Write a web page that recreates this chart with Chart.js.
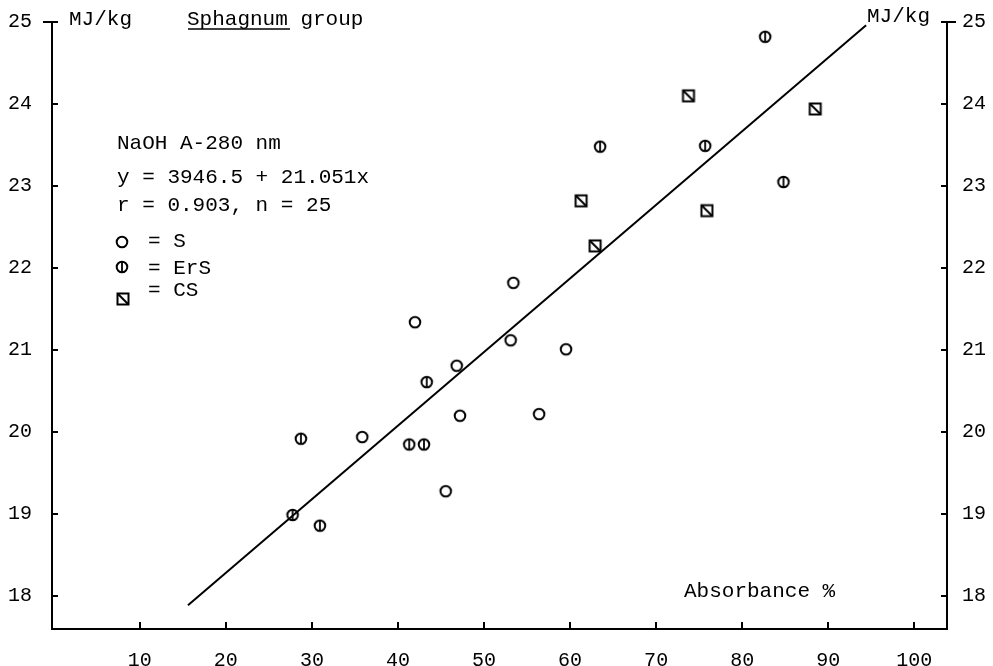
<!DOCTYPE html>
<html>
<head>
<meta charset="utf-8">
<script src="https://cdn.jsdelivr.net/npm/chart.js@4"></script>
<style>
html, body { margin: 0; padding: 0; background: #fff; }
#wrap { width: 993px; height: 666px; position: relative; }
</style>
</head>
<body>
<div id="wrap"><canvas id="chart"></canvas></div>
<script>
'use strict'

// Sphagnum group, absorbance % vs heat value MJ/kg
const sAbs = [41.98, 53.10, 59.53, 46.83, 47.21, 56.40, 35.85, 45.55, 53.41]
const sMJ = [21.34, 21.12, 21.01, 20.81, 20.20, 20.22, 19.94, 19.28, 21.82]

const ersAbs = [43.34, 28.72, 41.31, 43.02, 27.76, 30.93, 63.49, 75.70, 84.80, 82.67]
const ersMJ = [20.61, 19.92, 19.85, 19.85, 18.99, 18.86, 23.48, 23.49, 23.05, 24.82]

const csAbs = [73.76, 88.49, 61.28, 75.90, 62.91]
const csMJ = [24.10, 23.94, 22.82, 22.70, 22.27]

const fitAbs = [15.6, 94.4]
const fitMJ = [17.89, 24.96]

const xTicks = [10, 20, 30, 40, 50, 60, 70, 80, 90, 100]
const yTicks = [18, 19, 20, 21, 22, 23, 24, 25]

const FONT = '"Liberation Mono", "DejaVu Sans Mono", monospace'

const toPoints = (xs, ys) => xs.map((x, i) => ({x: x, y: ys[i]}))

function makeMarker(kind) {
    const c = document.createElement('canvas')
    c.width = 16
    c.height = 16
    const g = c.getContext('2d')
    g.strokeStyle = '#000'
    g.lineWidth = 2
    if (kind === 'cs') {
        g.strokeRect(2.5, 2.5, 11, 11)
        g.beginPath()
        g.moveTo(3, 3)
        g.lineTo(13, 13)
        g.stroke()
    } else {
        g.beginPath()
        g.arc(8, 8, 5.3, 0, Math.PI * 2)
        g.stroke()
        if (kind === 'ers') {
            g.lineWidth = 1.8
            g.beginPath()
            g.moveTo(8, 2.5)
            g.lineTo(8, 13.5)
            g.stroke()
        }
    }
    return c
}

const markS = makeMarker('s')
const markErS = makeMarker('ers')
const markCS = makeMarker('cs')

const textPlugin = {
    id: 'textPlugin',
    afterDraw(chart) {
        const ctx = chart.ctx
        const yl = chart.scales.y
        const yr = chart.scales.y2
        ctx.save()
        ctx.fillStyle = '#000'
        ctx.strokeStyle = '#000'
        ctx.textBaseline = 'middle'
        ctx.textAlign = 'left'
        ctx.font = '21px ' + FONT

        // outward part of the top ticks
        const top = yl.getPixelForValue(25)
        ctx.lineWidth = 2
        ctx.beginPath()
        ctx.moveTo(yl.right - 9, top)
        ctx.lineTo(yl.right, top)
        ctx.moveTo(yr.left, top)
        ctx.lineTo(yr.left + 9, top)
        ctx.stroke()

        ctx.fillText('MJ/kg', 69, 19)
        ctx.fillText('Sphagnum group', 187, 19)
        ctx.lineWidth = 1.5
        ctx.beginPath()
        ctx.moveTo(188, 29)
        ctx.lineTo(290, 29)
        ctx.stroke()
        ctx.fillText('MJ/kg', 867, 16)

        ctx.fillText('NaOH A-280 nm', 117, 143)
        ctx.fillText('y = 3946.5 + 21.051x', 117, 177)
        ctx.fillText('r = 0.903, n = 25', 117, 205)
        ctx.fillText('= S', 148, 241)
        ctx.fillText('= ErS', 148, 268)
        ctx.fillText('= CS', 148, 290)
        ctx.drawImage(markS, 114, 234)
        ctx.drawImage(markErS, 114, 259)
        ctx.drawImage(markCS, 115, 291)

        ctx.fillText('Absorbance %', 684, 591)
        ctx.restore()
    }
}

const yScale = (pos) => ({
    type: 'linear',
    position: pos,
    min: 17.6,
    max: 25,
    afterBuildTicks: (s) => { s.ticks = yTicks.map(v => ({value: v})) },
    afterFit: (s) => {
        s.width = pos === 'left' ? 52 : 46
        s.paddingTop = 0
        s.paddingBottom = 0
    },
    border: {display: true, color: '#000', width: 2},
    grid: {drawOnChartArea: false, color: '#000', lineWidth: 2, tickLength: -6},
    ticks: {
        color: '#000',
        font: {family: FONT, size: 20},
        padding: pos === 'left' ? 26 : 21,
        callback: (v) => String(v)
    }
})

new Chart(document.getElementById('chart'), {
    type: 'scatter',
    data: {
        datasets: [
            {
                type: 'line',
                label: 'fit',
                data: toPoints(fitAbs, fitMJ),
                borderColor: '#000',
                borderWidth: 2,
                pointRadius: 0,
                fill: false
            },
            {label: 'S', data: toPoints(sAbs, sMJ), pointStyle: markS},
            {label: 'ErS', data: toPoints(ersAbs, ersMJ), pointStyle: markErS},
            {label: 'CS', data: toPoints(csAbs, csMJ), pointStyle: markCS}
        ]
    },
    options: {
        responsive: true,
        maintainAspectRatio: false,
        animation: false,
        layout: {padding: {top: 22, left: 0, right: 0, bottom: 0}},
        plugins: {legend: {display: false}, tooltip: {enabled: false}},
        scales: {
            x: {
                type: 'linear',
                position: 'bottom',
                min: -0.2,
                max: 103.8,
                afterBuildTicks: (s) => { s.ticks = xTicks.map(v => ({value: v})) },
                afterFit: (s) => {
                    s.height = 37
                    s.paddingLeft = 0
                    s.paddingRight = 0
                },
                border: {display: true, color: '#000', width: 2},
                grid: {drawOnChartArea: false, color: '#000', lineWidth: 2, tickLength: -7},
                ticks: {
                    color: '#000',
                    font: {family: FONT, size: 20},
                    padding: 27,
                    maxRotation: 0,
                    callback: (v) => String(v)
                }
            },
            y: yScale('left'),
            y2: yScale('right')
        }
    },
    plugins: [textPlugin]
})
</script>
</body>
</html>
